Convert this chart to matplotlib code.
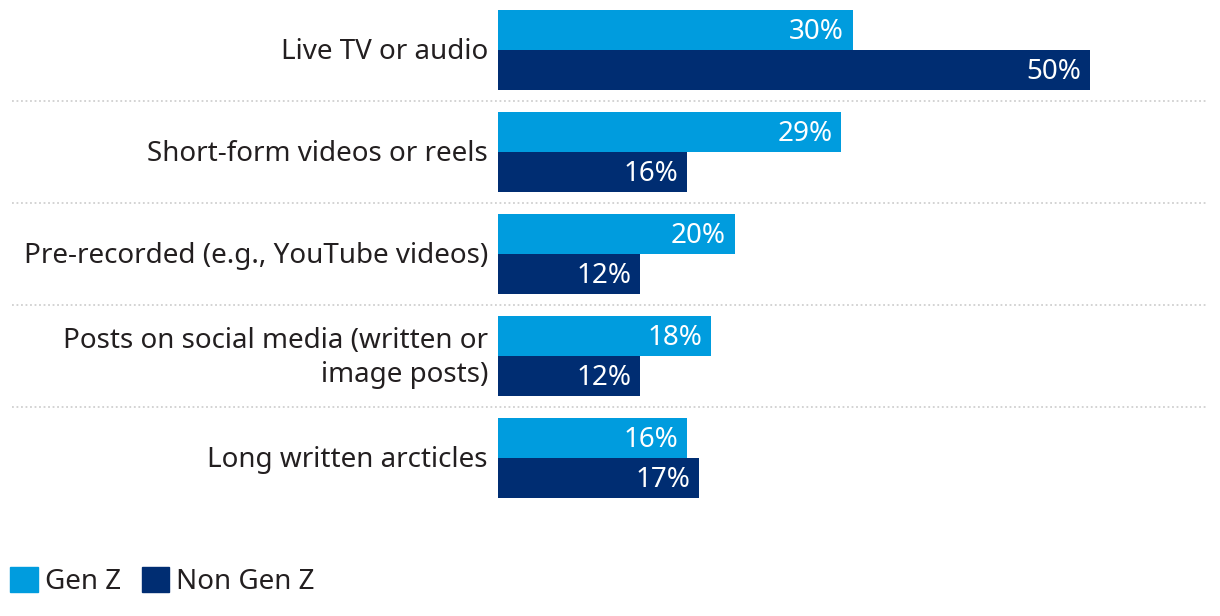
import numpy as np
import matplotlib
matplotlib.use('Agg')
import matplotlib.pyplot as plt
from matplotlib.patches import Patch
import matplotlib.transforms as mtransforms

plt.rcParams['font.family'] = ['Noto Sans', 'DejaVu Sans']

Categories = ['Live TV or audio', 'Short-form videos or reels', 'Pre-recorded (e.g., YouTube videos)',
              'Posts on social media (written or\nimage posts)', 'Long written arcticles']
GenZ = [30, 29, 20, 18, 16]
NonGenZ = [50, 16, 12, 12, 17]
SeriesNames = ['Gen Z', 'Non Gen Z']
Colors = ['#009CDE', '#002D72']
TextColor = '#231F20'
FS = 20

Fig = plt.figure(figsize=(12.2, 6.16), dpi=100)
Ax = Fig.add_axes([498 / 1220, 1 - 509 / 616, 710 / 1220, 510 / 616])

Y = np.arange(len(Categories))
H = 40 / 102
Ax.barh(Y - H / 2, GenZ, height=H, color=Colors[0])
Ax.barh(Y + H / 2, NonGenZ, height=H, color=Colors[1])

# nudge text down a couple of pixels
TextTrans = Ax.transData + mtransforms.ScaledTranslation(0, -2 / 100, Fig.dpi_scale_trans)
for i in range(len(Categories)):
    Ax.text(GenZ[i] - 0.75, Y[i] - H / 2, str(GenZ[i]) + '%', color='white', fontsize=FS, ha='right', va='center',
            transform=TextTrans)
    Ax.text(NonGenZ[i] - 0.75, Y[i] + H / 2, str(NonGenZ[i]) + '%', color='white', fontsize=FS, ha='right', va='center',
            transform=TextTrans)
    Ax.text(-10 / 710 * 60, Y[i], Categories[i], color=TextColor, fontsize=FS, ha='right', va='center',
            multialignment='right', linespacing=1.27, transform=TextTrans)

# dotted separators between groups
Trans = mtransforms.blended_transform_factory(Ax.transAxes, Ax.transData)
for i in range(len(Categories) - 1):
    Ax.plot([(12 - 498) / 710, 1.0], [i + 0.5, i + 0.5], transform=Trans, clip_on=False,
            color='#D0D0D0', linewidth=1.3, linestyle=(0, (1, 1.5)))

Ax.set_xlim(0, 60)
Ax.set_ylim(4.5, -0.5)
Ax.axis('off')

Handles = [Patch(color=c) for c in Colors]
Fig.legend(Handles, SeriesNames, loc='lower left', bbox_to_anchor=(10 / 1220, 20 / 616), ncol=2, frameon=False,
           fontsize=FS, handlelength=1.0, handleheight=1.0, handletextpad=0.25, columnspacing=0.75,
           labelcolor=TextColor, borderpad=0, borderaxespad=0)

Fig.savefig('out.png', dpi=100, facecolor='white')
